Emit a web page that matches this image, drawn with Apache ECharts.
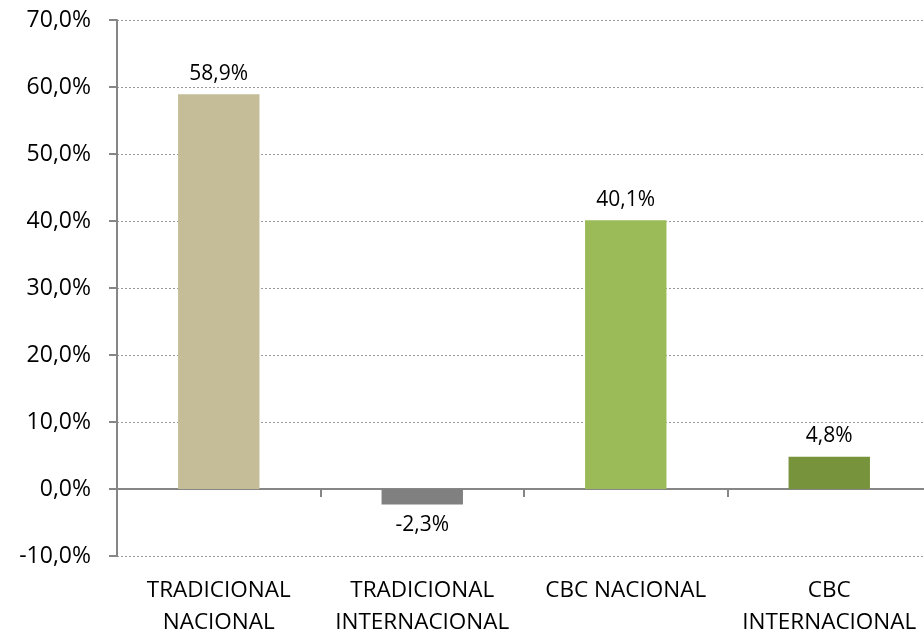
<!DOCTYPE html>
<html>
<head>
<meta charset="utf-8">
<script src="https://cdn.jsdelivr.net/npm/echarts@6/dist/echarts.min.js"></script>
<style>html,body{margin:0;padding:0;background:#fff}#c{width:924px;height:635px}</style>
</head>
<body>
<div id="c"></div>
<script>
const categories = ['TRADICIONAL\nNACIONAL', 'TRADICIONAL\nINTERNACIONAL', 'CBC NACIONAL', 'CBC\nINTERNACIONAL'];
const values = [58.9, -2.3, 40.1, 4.8];
const barColors = ['#C4BD97', '#808080', '#9BBB59', '#77933C'];
const yMin = -10, yMax = 70, yStep = 10;

const fmt = v => v.toFixed(1).replace('.', ',') + '%';
const FONT = 'Open Sans';

const chart = echarts.init(document.getElementById('c'), null, {renderer: 'canvas'});
chart.setOption({
  animation: false,
  backgroundColor: '#fff',
  grid: {left: 117, top: 20, width: 814, height: 536, containLabel: false, outerBoundsMode: 'none'},
  xAxis: [
    {
      type: 'category', data: categories, position: 'bottom',
      axisLine: {onZero: true, lineStyle: {color: '#868686', width: 2}},
      axisTick: {show: true, length: 8, lineStyle: {color: '#868686', width: 2}},
      axisLabel: {show: false}
    },
    {
      type: 'category', data: categories, position: 'bottom',
      axisLine: {show: false, onZero: false},
      axisTick: {show: false},
      axisLabel: {show: true, margin: 19, color: '#000', fontFamily: FONT, fontSize: 22.5, lineHeight: 32, interval: 0}
    }
  ],
  yAxis: {
    type: 'value', min: yMin, max: yMax, interval: yStep,
    axisLine: {show: true, lineStyle: {color: '#868686', width: 2}},
    axisTick: {show: true, length: 8, lineStyle: {color: '#868686', width: 2}},
    splitLine: {show: true, lineStyle: {color: '#9a9a9a', type: [2, 2], width: 1}},
    axisLabel: {margin: 26, color: '#000', fontFamily: FONT, fontSize: 23, formatter: fmt}
  },
  series: [{
    type: 'bar', xAxisIndex: 0,
    data: values.map((v, i) => ({
      value: v,
      itemStyle: {color: barColors[i]},
      label: {position: v < 0 ? 'bottom' : 'top'}
    })),
    barWidth: '40%',
    label: {show: true, distance: 10, color: '#000', fontFamily: FONT, fontSize: 21, formatter: p => fmt(p.value)}
  }]
});
</script>
</body>
</html>
